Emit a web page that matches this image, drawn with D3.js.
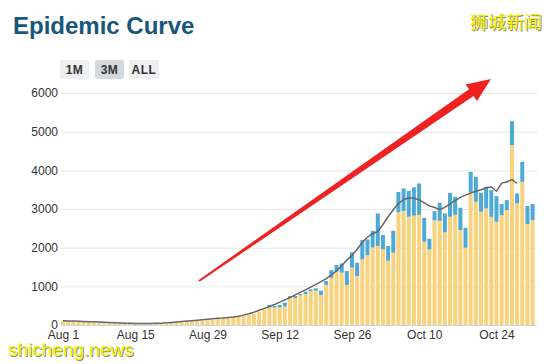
<!DOCTYPE html>
<html><head><meta charset="utf-8">
<script src="https://cdn.jsdelivr.net/npm/d3@7"></script>
<style>body{margin:0;background:#fff;}svg{display:block;font-family:"Liberation Sans",Arial,sans-serif;}</style>
</head><body>
<svg id="c" width="554" height="364"></svg>
<script>
// ---- data ----
const startDate = new Date(2021, 7, 1); // Aug 1
// bottom segment (yellow) per day, Aug 1 .. Oct 31
const yellowAug = [100,95,90,85,80,75,70,65,60,55,45,40,35,30,25,20,18,20,25,30,45,60,70,75,85,90,100,110,120,130,150];
const yellowSep = [170,185,200,215,240,270,290,345,405,457,451,457,477,719,699,771,801,881,887,777,1037,1221,1380,1354,1035,1488,1265,1696,1808,2007];
const yellowOct = [2041,1955,1662,1869,2920,2950,2800,2830,2850,2153,1955,2705,2695,2395,2799,2850,2455,1998,3420,3187,2928,3015,2799,2669,2842,2972,4651,3145,3703,2610,2713];
// top segment (blue) per day
const blueAug = [0,0,0,0,0,0,0,0,0,0,0,0,0,0,0,0,0,0,0,0,0,0,0,0,0,0,0,0,0,0,0];
const blueSep = [0,0,0,0,0,0,0,0,0,60,40,60,100,30,50,30,60,40,60,110,100,200,170,240,360,390,345,500,405,430];
const blueOct = [844,370,379,568,520,582,670,728,811,617,275,241,466,490,620,466,576,516,542,646,491,559,689,664,285,258,620,258,517,465,414];
// 7-day average line, Aug 1 .. Oct 28
const avgAug = [110,106,101,96,91,86,81,76,70,64,58,52,47,44,42,41,41,42,44,48,55,65,77,89,101,113,125,137,149,161,173];
const avgSep = [180,192,205,225,255,290,330,380,430,480,530,590,650,710,780,850,910,980,1050,1120,1200,1300,1400,1530,1680,1800,1960,2140,2270,2360];
const avgOct = [2420,2600,2800,2980,3140,3240,3290,3280,3240,3160,3080,3040,2990,3040,3130,3220,3300,3360,3410,3460,3500,3550,3570,3460,3670,3700,3760,3660];
const yTicks = [0,1000,2000,3000,4000,5000,6000];
const xTickLabels = ["Aug 1","Aug 15","Aug 29","Sep 12","Sep 26","Oct 10","Oct 24"];
const buttons = ["1M","3M","ALL"];

const yellow = yellowAug.concat(yellowSep, yellowOct);
const blue = blueAug.concat(blueSep, blueOct);
const avg = avgAug.concat(avgSep, avgOct);
const days = yellow.map((_, i) => d3.timeDay.offset(startDate, i));

const svg = d3.select("#c");
const x = d3.scaleTime().domain([startDate, d3.timeDay.offset(startDate, 91)]).range([63, 532.6]);
const y = d3.scaleLinear().domain([0, 6000]).range([325, 93]);

// title
svg.append("text").attr("x", 13).attr("y", 34).attr("fill", "#17577a")
  .attr("font-size", 24).attr("font-weight", "bold").text("Epidemic Curve");

// buttons
const bx = [60, 95, 129], bw = [29, 29, 30];
buttons.forEach((b, i) => {
  svg.append("rect").attr("x", bx[i]).attr("y", 60).attr("width", bw[i]).attr("height", 19).attr("rx", 2)
    .attr("fill", i === 1 ? "#d5d8dc" : "#eeeff1");
  svg.append("text").attr("x", bx[i] + bw[i] / 2).attr("y", 74).attr("text-anchor", "middle")
    .attr("font-size", 12).attr("font-weight", "bold").attr("fill", "#333").attr("letter-spacing", 0.5).text(b);
});

// grid
svg.append("g").selectAll("line").data(yTicks.filter(d => d > 0)).join("line")
  .attr("x1", 61).attr("x2", 537).attr("y1", d => y(d) + 0.5).attr("y2", d => y(d) + 0.5)
  .attr("stroke", "#e6e6e6");
svg.append("line").attr("x1", 61).attr("x2", 537).attr("y1", y(0) + 0.5).attr("y2", y(0) + 0.5).attr("stroke", "#ccd6eb");

// y labels
const yAxis = d3.axisLeft(y).tickValues(yTicks).tickSize(0).tickPadding(0).tickFormat(d3.format("d"));
const ga = svg.append("g").attr("transform", "translate(58,0)").call(yAxis);
ga.select(".domain").remove();
ga.selectAll("text").attr("font-size", 12).attr("fill", "#333").attr("font-family", "Liberation Sans, Arial, sans-serif");

// x labels
const tickDates = xTickLabels.map((_, i) => d3.timeDay.offset(startDate, i * 14));
const xAxis = d3.axisBottom(x).tickValues(tickDates).tickSize(0).tickPadding(0)
  .tickFormat((d, i) => xTickLabels[i]);
const gx = svg.append("g").attr("transform", "translate(0,330)").call(xAxis);
gx.select(".domain").remove();
gx.selectAll("text").attr("font-size", 12).attr("fill", "#333").attr("font-family", "Liberation Sans, Arial, sans-serif");

// bars
const bwid = 4;
svg.append("g").selectAll("rect").data(days).join("rect")
  .attr("x", d => x(d) - bwid / 2).attr("width", bwid)
  .attr("y", (d, i) => y(yellow[i])).attr("height", (d, i) => y(0) - y(yellow[i]))
  .attr("fill", "#f8d27c");
svg.append("g").selectAll("rect").data(days).join("rect")
  .attr("x", d => x(d) - bwid / 2).attr("width", bwid)
  .attr("y", (d, i) => y(yellow[i] + blue[i])).attr("height", (d, i) => y(yellow[i]) - y(yellow[i] + blue[i]))
  .attr("fill", "#4fa9d5");

// line
const line = d3.line().x((d, i) => x(days[i])).y(d => y(d)).curve(d3.curveLinear);
svg.append("path").datum(avg).attr("d", line).attr("fill", "none").attr("stroke", "#666").attr("stroke-width", 1.5);

// red arrow annotation
(function () {
  const x0 = 199, y0 = 281, x1 = 491, y1 = 79;
  const dx = x1 - x0, dy = y1 - y0, L = Math.hypot(dx, dy);
  const ux = dx / L, uy = dy / L, nx = -uy, ny = ux;
  const headL = 24, headW = 10, shaftEnd = 4, tailW = 1;
  const hx = x1 - ux * headL, hy = y1 - uy * headL;
  const pts = [
    [x0 + nx * tailW, y0 + ny * tailW],
    [hx + nx * shaftEnd, hy + ny * shaftEnd],
    [hx + nx * headW, hy + ny * headW],
    [x1, y1],
    [hx - nx * headW, hy - ny * headW],
    [hx - nx * shaftEnd, hy - ny * shaftEnd],
    [x0 - nx * tailW, y0 - ny * tailW]
  ];
  svg.append("polygon").attr("points", pts.map(p => p.join(",")).join(" ")).attr("fill", "#ee2222");
})();

// watermarks
function wm(txt, xx, yy, fs, fam) {
  svg.append("text").attr("x", xx + 1).attr("y", yy + 1).attr("font-size", fs).attr("font-family", fam).attr("fill", "#8a8a70").text(txt);
  svg.append("text").attr("x", xx).attr("y", yy).attr("font-size", fs).attr("font-family", fam).attr("fill", "#f2f200").text(txt);
}
wm("狮城新闻", 470, 29, 18, "Noto Sans CJK SC");
wm("shicheng.news", 8, 356, 19, "Liberation Sans, Arial, sans-serif");
</script>
</body></html>
